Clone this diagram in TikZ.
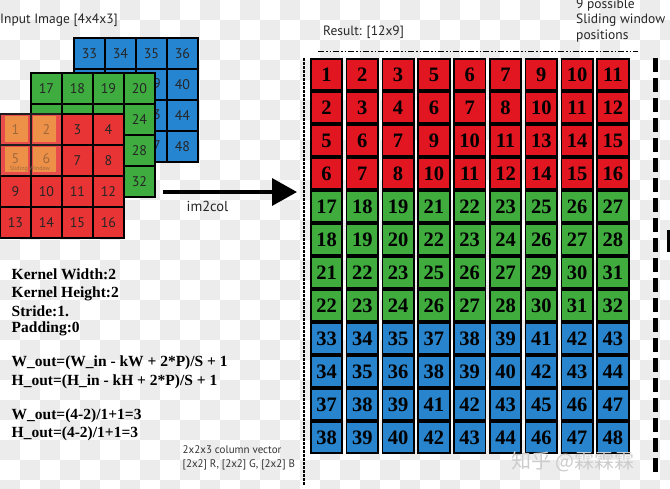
\documentclass[tikz,border=0pt]{standalone}
\usepackage{fontspec}
\setmainfont{Liberation Serif}
\newfontfamily\labfont{PT Sans}
\newfontfamily\cjkfont{Noto Sans CJK SC}
\usetikzlibrary{arrows.meta}
\definecolor{inred}{RGB}{232,52,52}
\definecolor{ingreen}{RGB}{62,172,62}
\definecolor{inblue}{RGB}{38,133,208}
\definecolor{outred}{RGB}{226,22,32}
\definecolor{outgreen}{RGB}{64,172,62}
\definecolor{outblue}{RGB}{40,132,204}
\definecolor{checker}{RGB}{236,236,236}
\definecolor{winorange}{RGB}{238,152,72}
\definecolor{winnum}{RGB}{160,105,60}
\begin{document}
\begin{tikzpicture}[x=1pt,y=-1pt,
  incell/.style={draw=black, line width=1.8pt, minimum width=31pt, minimum height=31pt,
    inner sep=0pt, anchor=north west, font=\labfont\fontsize{14}{14}\selectfont, text=black!85},
  outcell/.style={draw=black, line width=1.7pt, minimum width=31.5pt, minimum height=30.5pt,
    inner sep=0pt, font=\bfseries\fontsize{20.5}{20.5}\selectfont, text=black},
  lab/.style={inner sep=0pt, font=\labfont\fontsize{13.5}{15.5}\selectfont, text=black!85},
  small/.style={inner sep=0pt, font=\labfont\fontsize{11}{13}\selectfont, text=black!80},
  kern/.style={inner sep=0pt, anchor=base west, font=\bfseries\fontsize{15.5}{18}\selectfont},
]
\useasboundingbox (0,0) rectangle (670,488);
\clip (0,0) rectangle (670,488);
% transparency checkerboard
\fill[white] (0,0) rectangle (670,488);
\foreach \i in {0,...,33}{
  \foreach \j in {0,...,24}{
    \pgfmathtruncatemacro\chk{mod(\i+\j,2)}
    \ifnum\chk=0 \fill[checker] (20*\i,20*\j) rectangle ++(20,20);\fi
  }
}
% input image: blue channel (cells hidden behind green carry no number)
\foreach \row in {0,...,3}{
  \foreach \col in {0,...,3}{
    \pgfmathtruncatemacro\v{33+4*\row+\col}
    \pgfmathtruncatemacro\hid{(\row>0)&&(\col<3)}
    \ifnum\hid=1
      \node[incell, fill=inblue] (b\row\col) at (73+31*\col,37+31*\row) {};
    \else
      \node[incell, fill=inblue] (b\row\col) at (73+31*\col,37+31*\row) {\v};
    \fi
  }
}
% last digits of 39, 43, 47 peeking out beside the green channel
\node[lab, font=\labfont\fontsize{14}{14}\selectfont] (p39) at (157,84) {9};
\node[lab, font=\labfont\fontsize{14}{14}\selectfont] (p43) at (157,115) {3};
\node[lab, font=\labfont\fontsize{14}{14}\selectfont] (p47) at (157,146) {7};
% green channel (cells hidden behind red carry no number)
\foreach \row in {0,...,3}{
  \foreach \col in {0,...,3}{
    \pgfmathtruncatemacro\v{17+4*\row+\col}
    \pgfmathtruncatemacro\hid{(\row>0)&&(\col<3)}
    \ifnum\hid=1
      \node[incell, fill=ingreen] (g\row\col) at (30+31*\col,72+31*\row) {};
    \else
      \node[incell, fill=ingreen] (g\row\col) at (30+31*\col,72+31*\row) {\v};
    \fi
  }
}
% red channel
\foreach \row in {0,...,3}{
  \foreach \col in {0,...,3}{
    \pgfmathtruncatemacro\v{1+4*\row+\col}
    \pgfmathtruncatemacro\inwin{(\row<2)&&(\col<2)}
    \ifnum\inwin=1
      \node[incell, fill=inred] (r\row\col) at (-1+31*\col,113+31*\row) {};
    \else
      \node[incell, fill=inred] (r\row\col) at (-1+31*\col,113+31*\row) {\v};
    \fi
  }
}
% sliding window
\fill[white, opacity=0.12] (-1,113) rectangle (61,175);
\fill[winorange, opacity=0.9] (5,116) rectangle (28,142);
\fill[winorange, opacity=0.9] (33,116) rectangle (56,142);
\fill[winorange, opacity=0.9] (5,147) rectangle (28,172);
\fill[winorange, opacity=0.9] (33,147) rectangle (56,172);
\node[lab, text=winnum, font=\labfont\fontsize{14}{14}\selectfont] (w1) at (r00.center) {1};
\node[lab, text=winnum, font=\labfont\fontsize{14}{14}\selectfont] (w2) at (r01.center) {2};
\node[lab, text=winnum, font=\labfont\fontsize{14}{14}\selectfont] (w5) at ([yshift=2pt]r10.center) {5};
\node[lab, text=winnum, font=\labfont\fontsize{14}{14}\selectfont] (w6) at ([yshift=2pt]r11.center) {6};
\node[inner sep=0pt, text=winnum, font=\labfont\fontsize{6}{6}\selectfont] (swl) at (30,169) {Sliding Window};
% labels
\node[lab, anchor=west] (title) at (0,20) {Input Image [4x4x3]};
\node[lab, anchor=west] (res) at (323,32) {Result: [12x9]};
\node[lab, anchor=north west, align=left] (nine) at (576,-1.5) {9 possible\\Sliding window\\positions};
% im2col arrow
\coordinate (as) at (163,192);
\coordinate (ae) at (297,192);
\draw[line width=3.5pt, -{Triangle[length=25pt,width=27pt]}] (as) -- (ae);
\node[lab, font=\labfont\fontsize{14.5}{14.5}\selectfont] (im) at (207.5,206.5) {im2col};
% result matrix
\foreach \ri in {0,...,11}{
  \foreach \ci in {0,...,8}{
    \pgfmathtruncatemacro\bi{floor(\ri/4)}
    \pgfmathtruncatemacro\rr{mod(\ri,4)}
    \pgfmathtruncatemacro\v{16*\bi+4*(floor(\ci/3)+floor(\rr/2))+mod(\ci,3)+mod(\rr,2)+1}
    \ifcase\bi \def\fillcol{outred}\or \def\fillcol{outgreen}\or \def\fillcol{outblue}\fi
    \node[outcell, fill=\fillcol] (o\ri-\ci) at (326.5+35.8*\ci,74.5+33*\ri) {\v};
  }
}
% dashed guides
\coordinate (tl) at (318,51.5);
\coordinate (tr) at (638,51.5);
\draw[line width=1.4pt, dash pattern=on 6pt off 2pt on 1.5pt off 2pt on 1.5pt off 2pt] (tl) -- (tr);
\coordinate (lt) at (304,58);
\coordinate (lb) at (304,486);
\draw[line width=1.8pt, dash pattern=on 2.5pt off 1.5pt] (lt) -- (lb);
\coordinate (rt) at (655,58);
\coordinate (rb) at (655,478);
\draw[line width=5pt, dash pattern=on 14pt off 6pt] (rt) -- (rb);
\fill[black] (666.5,230) rectangle (670,252);
% formulas
\node[kern] (k1) at (11.5,279) {Kernel Width:2};
\node[kern] (k2) at (11.5,297.5) {Kernel Height:2};
\node[kern] (k3) at (11.5,316) {Stride:1.};
\node[kern] (k4) at (11.5,332.5) {Padding:0};
\node[kern] (f1) at (11.5,366) {W\_out=(W\_in - kW + 2*P)/S + 1};
\node[kern] (f2) at (11.5,385) {H\_out=(H\_in - kH + 2*P)/S + 1};
\node[kern] (f3) at (11.5,419) {W\_out=(4-2)/1+1=3};
\node[kern] (f4) at (11.5,437) {H\_out=(4-2)/1+1=3};
% column vector note
\node[small, anchor=base west] (cv1) at (182.5,453) {2x2x3 column vector};
\node[small, anchor=base west] (cv2) at (182.5,467) {[2x2] R, [2x2] G, [2x2] B};
% watermark
\node[inner sep=0pt, anchor=base west, text=black!20, font=\cjkfont\fontsize{20}{20}\selectfont] (wm) at (511,468) {知乎 @霖霖霖};
\end{tikzpicture}
\end{document}
